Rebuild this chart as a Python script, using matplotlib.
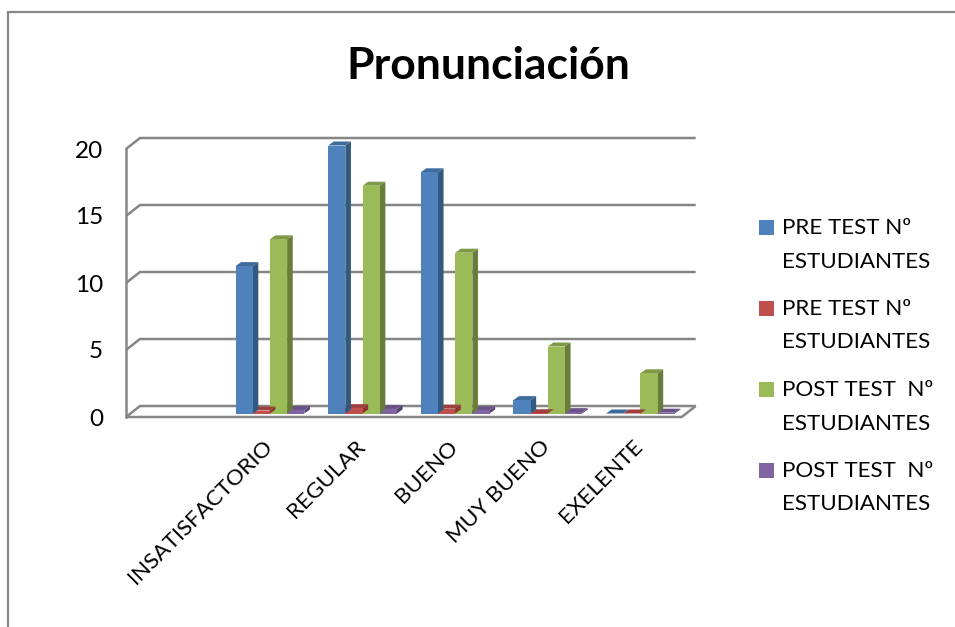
import matplotlib
matplotlib.use('Agg')
import matplotlib.pyplot as plt
from matplotlib.patches import Rectangle
from matplotlib.lines import Line2D

plt.rcParams['font.family'] = ['Lato', 'DejaVu Sans']

# Datos
categorias = ['INSATISFACTORIO', 'REGULAR', 'BUENO', 'MUY BUENO', 'EXELENTE']
pre_num = [11, 20, 18, 1, 0]
pre_pct = [0.22, 0.40, 0.36, 0.02, 0.0]
post_num = [13, 17, 12, 5, 3]
post_pct = [0.26, 0.34, 0.24, 0.10, 0.06]
nombres = ['PRE TEST Nº\nESTUDIANTES', 'PRE TEST Nº\nESTUDIANTES',
           'POST TEST  Nº\nESTUDIANTES', 'POST TEST  Nº\nESTUDIANTES']
y_ticks = [0, 5, 10, 15, 20]

series = [pre_num, pre_pct, post_num, post_pct]
frente = ['#4F81BD', '#C0504D', '#9BBB59', '#8064A2']
lado = ['#34597F', '#8A3432', '#687D3A', '#574373']
tapa = ['#3F6A9C', '#A03F3D', '#7F9A47', '#6A5288']

W, H = 955, 627
fig = plt.figure(figsize=(W / 100, H / 100), dpi=100)
ax = fig.add_axes([126 / W, 1 - 417 / H, 555.7 / W, 268 / H])
ax.set_xlim(0, 6)
ax.set_ylim(0, 20)

# Profundidad del efecto 3D, en unidades de datos
px_x = 6 / 555.7
px_y = 20 / 268
muro_dx, muro_dy = 14 * px_x, 11 * px_y
barra_dx, barra_dy = 5.6 * px_x, 4 * px_y
base = 3.5 * px_y
ancho = 17.2 * px_x
desplaz = 5 * px_x

gris = '#868686'
# Muro del fondo y piso
for v in y_ticks:
    ax.plot([0, muro_dx, 6 + muro_dx], [v, v + muro_dy, v + muro_dy],
            color=gris, lw=1.8, clip_on=False, zorder=1, solid_joinstyle='miter',
            solid_capstyle='butt')
ax.plot([0, 0], [0, 20], color=gris, lw=1.8, clip_on=False, zorder=1)
ax.plot([0, 6, 6 + muro_dx], [0, 0, muro_dy], color=gris, lw=1.8, clip_on=False, zorder=1,
        solid_joinstyle='miter', solid_capstyle='butt')

# Barras: de derecha a izquierda para que tapen bien las caras laterales
z = 2
for s in range(3, -1, -1):
    for i, v in enumerate(series[s]):
        x0 = 1.5 + i + desplaz + (s - 2) * ancho
        x1 = x0 + ancho
        y1 = base + v
        ax.fill([x1, x1 + barra_dx, x1 + barra_dx, x1],
                [base, base + barra_dy, y1 + barra_dy, y1],
                color=lado[s], lw=0, clip_on=False, zorder=z)
        ax.fill([x0, x1, x1 + barra_dx, x0 + barra_dx],
                [y1, y1, y1 + barra_dy, y1 + barra_dy],
                color=tapa[s], lw=0, clip_on=False, zorder=z)
        ax.bar(x0, v, width=ancho, bottom=base, align='edge', color=frente[s],
               lw=0, clip_on=False, zorder=z)
    z += 1

ax.set_xlim(0, 6)
ax.set_ylim(0, 20)
ax.set_xticks([1.5 + i - 3 * px_x for i in range(len(categorias))])
ax.set_xticklabels(categorias, rotation=45, ha='right', rotation_mode='anchor', fontsize=16.2)
ax.set_yticks(y_ticks)
ax.set_yticklabels([str(v) for v in y_ticks], fontsize=17.5)
ax.tick_params(axis='both', length=0)
ax.tick_params(axis='x', pad=14)
ax.tick_params(axis='y', pad=16.5)
for sp in ax.spines.values():
    sp.set_visible(False)
ax.patch.set_alpha(0)

# Marco exterior del grafico
fig.add_artist(Line2D([8 / W, 8 / W, 1], [0, 1 - 11.5 / H, 1 - 11.5 / H], color=gris, lw=1.6,
                      solid_joinstyle='miter'))

fig.text(488 / W, 1 - 66 / H, 'Pronunciación', fontsize=32, fontweight='bold',
         ha='center', va='center', color='black')

# Leyenda
for i, nombre in enumerate(nombres):
    y = 228 + i * 81
    fig.add_artist(Rectangle((759 / W, 1 - (y + 7) / H), 15 / W, 15 / H,
                             transform=fig.transFigure, color=frente[i], lw=0))
    l1, l2 = nombre.split('\n')
    fig.text(782 / W, 1 - y / H, l1, fontsize=16.1, va='center', ha='left')
    fig.text(782 / W, 1 - (y + 33.5) / H, l2, fontsize=16.1, va='center', ha='left')

fig.savefig('out.png', dpi=100)
